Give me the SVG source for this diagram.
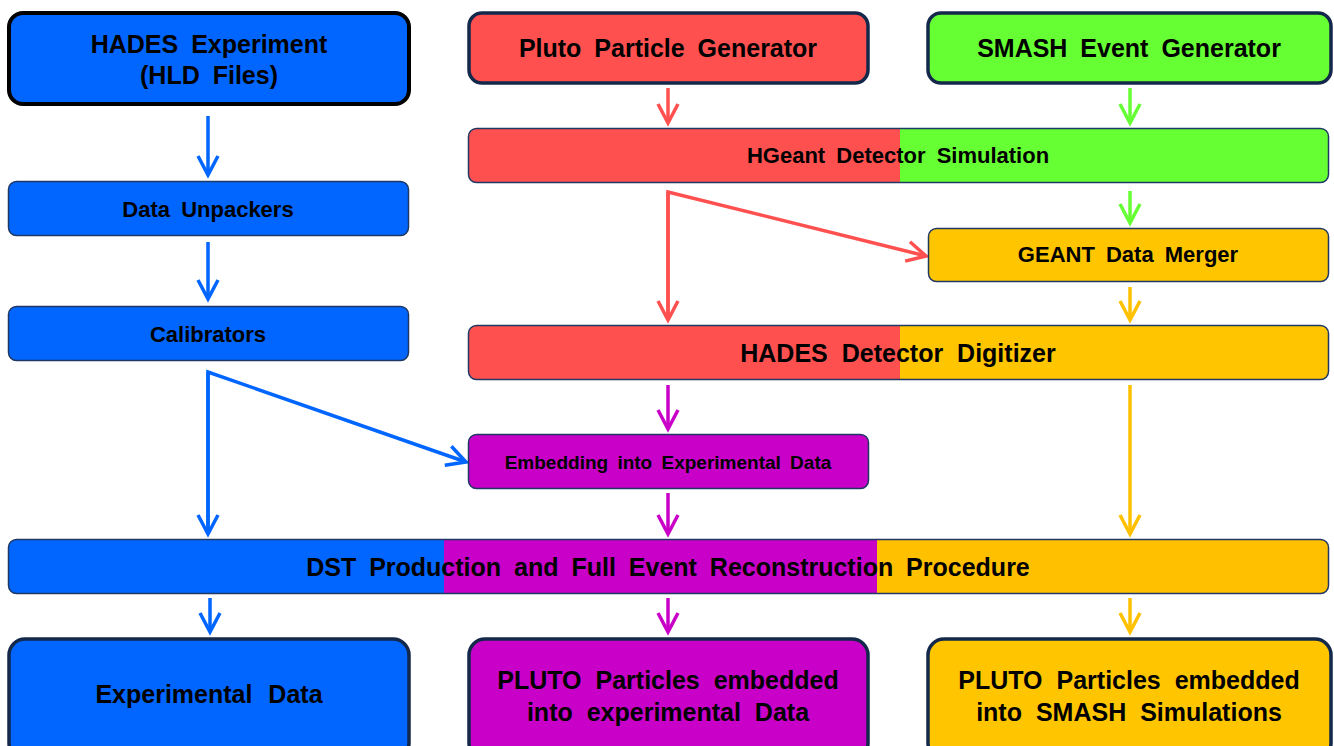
<svg xmlns="http://www.w3.org/2000/svg" width="1334" height="746" viewBox="0 0 1334 746">
<style>
.t{font-family:"Liberation Sans",Arial,sans-serif;font-weight:bold;fill:#000;text-anchor:middle}
.big{font-size:25px;word-spacing:6px}
.mid{font-size:22px;word-spacing:5px}
.sm{font-size:19px;word-spacing:4px}
.thin{stroke:#1F3864;stroke-width:1.5}
.thick{stroke:#14284B;stroke-width:3.5}
.c{fill:none;stroke-width:3.5;stroke-linecap:butt}
</style>
<defs>
<linearGradient id="gHG" gradientUnits="userSpaceOnUse" x1="468" y1="0" x2="1328" y2="0">
<stop offset="0.502" stop-color="#FF5050"/><stop offset="0.502" stop-color="#66FF33"/></linearGradient>
<linearGradient id="gDig" gradientUnits="userSpaceOnUse" x1="468" y1="0" x2="1328" y2="0">
<stop offset="0.502" stop-color="#FF5050"/><stop offset="0.502" stop-color="#FFC600"/></linearGradient>
<linearGradient id="gDST" gradientUnits="userSpaceOnUse" x1="8" y1="0" x2="1328" y2="0">
<stop offset="0.330" stop-color="#0066FF"/><stop offset="0.330" stop-color="#C800C8"/>
<stop offset="0.658" stop-color="#C800C8"/><stop offset="0.658" stop-color="#FFC000"/></linearGradient>
<marker id="mB" markerUnits="userSpaceOnUse" markerWidth="30" markerHeight="30" viewBox="-25 -15 30 30" refX="0" refY="0" orient="auto" overflow="visible"><path d="M-19,-10 L0,0 L-19,10" fill="none" stroke="#0066FF" stroke-width="3.5"/></marker>
<marker id="mR" markerUnits="userSpaceOnUse" markerWidth="30" markerHeight="30" viewBox="-25 -15 30 30" refX="0" refY="0" orient="auto" overflow="visible"><path d="M-19,-10 L0,0 L-19,10" fill="none" stroke="#FF5050" stroke-width="3.5"/></marker>
<marker id="mG" markerUnits="userSpaceOnUse" markerWidth="30" markerHeight="30" viewBox="-25 -15 30 30" refX="0" refY="0" orient="auto" overflow="visible"><path d="M-19,-10 L0,0 L-19,10" fill="none" stroke="#66FF33" stroke-width="3.5"/></marker>
<marker id="mY" markerUnits="userSpaceOnUse" markerWidth="30" markerHeight="30" viewBox="-25 -15 30 30" refX="0" refY="0" orient="auto" overflow="visible"><path d="M-19,-10 L0,0 L-19,10" fill="none" stroke="#FFC000" stroke-width="3.5"/></marker>
<marker id="mP" markerUnits="userSpaceOnUse" markerWidth="30" markerHeight="30" viewBox="-25 -15 30 30" refX="0" refY="0" orient="auto" overflow="visible"><path d="M-19,-10 L0,0 L-19,10" fill="none" stroke="#C800C8" stroke-width="3.5"/></marker>
</defs>
<rect width="1334" height="746" fill="#fff"/>

<g id="connectors">
<line class="c" stroke="#0066FF" x1="208" y1="116" x2="208" y2="175" marker-end="url(#mB)"/>
<line class="c" stroke="#0066FF" x1="208" y1="242" x2="208" y2="299" marker-end="url(#mB)"/>
<polyline class="c" stroke="#0066FF" points="208,534 208,372 466,462" marker-end="url(#mB)"/>
<line class="c" stroke="#0066FF" x1="208" y1="372" x2="208" y2="534" marker-end="url(#mB)"/>
<line class="c" stroke="#0066FF" x1="210" y1="598" x2="210" y2="632" marker-end="url(#mB)"/>
<line class="c" stroke="#FF5050" x1="668" y1="88" x2="668" y2="123" marker-end="url(#mR)"/>
<polyline class="c" stroke="#FF5050" points="668,320 668,192 926,256" marker-end="url(#mR)"/>
<line class="c" stroke="#FF5050" x1="668" y1="192" x2="668" y2="320" marker-end="url(#mR)"/>
<line class="c" stroke="#66FF33" x1="1130" y1="88" x2="1130" y2="123" marker-end="url(#mG)"/>
<line class="c" stroke="#66FF33" x1="1130" y1="191" x2="1130" y2="223" marker-end="url(#mG)"/>
<line class="c" stroke="#FFC000" x1="1130" y1="287" x2="1130" y2="320" marker-end="url(#mY)"/>
<line class="c" stroke="#FFC000" x1="1130" y1="385" x2="1130" y2="534" marker-end="url(#mY)"/>
<line class="c" stroke="#FFC000" x1="1130" y1="598" x2="1130" y2="632" marker-end="url(#mY)"/>
<line class="c" stroke="#C800C8" x1="668" y1="385" x2="668" y2="429" marker-end="url(#mP)"/>
<line class="c" stroke="#C800C8" x1="668" y1="493" x2="668" y2="534" marker-end="url(#mP)"/>
<line class="c" stroke="#C800C8" x1="668" y1="598" x2="668" y2="632" marker-end="url(#mP)"/>
</g>

<g id="hades-experiment">
<rect x="9" y="13" width="400" height="91" rx="14" fill="#0066FF" stroke="#000" stroke-width="4"/>
<text class="t big" x="209" y="53">HADES Experiment</text>
<text class="t big" x="209" y="84">(HLD Files)</text>
</g>
<g id="pluto-generator">
<rect x="469" y="13" width="399" height="70" rx="13" fill="#FF5050" class="thick"/>
<text class="t big" x="668" y="57">Pluto Particle Generator</text>
</g>
<g id="smash-generator">
<rect x="928" y="13" width="403" height="70" rx="13" fill="#66FF33" class="thick"/>
<text class="t big" x="1129" y="57">SMASH Event Generator</text>
</g>
<g id="data-unpackers">
<rect x="8.5" y="181.5" width="400" height="54" rx="8" fill="#0066FF" class="thin"/>
<text class="t mid" x="208" y="217">Data Unpackers</text>
</g>
<g id="calibrators">
<rect x="8.5" y="306.5" width="400" height="54" rx="8" fill="#0066FF" class="thin"/>
<text class="t mid" x="208" y="342">Calibrators</text>
</g>
<g id="hgeant">
<rect x="468.5" y="128.5" width="860" height="54" rx="8" fill="url(#gHG)" class="thin"/>
<text class="t mid" x="898" y="163">HGeant Detector Simulation</text>
</g>
<g id="geant-merger">
<rect x="928.5" y="228.5" width="400" height="53" rx="8" fill="#FFC600" class="thin"/>
<text class="t mid" x="1128" y="262">GEANT Data Merger</text>
</g>
<g id="digitizer">
<rect x="468.5" y="325.5" width="860" height="54" rx="8" fill="url(#gDig)" class="thin"/>
<text class="t big" x="898" y="362" style="word-spacing:7px">HADES Detector Digitizer</text>
</g>
<g id="embedding">
<rect x="468.5" y="434.5" width="400" height="54" rx="8" fill="#C800C8" class="thin"/>
<text class="t sm" x="668" y="469">Embedding into Experimental Data</text>
</g>
<g id="dst">
<rect x="8.5" y="539.5" width="1320" height="54" rx="8" fill="url(#gDST)" class="thin"/>
<text class="t big" x="668" y="576">DST Production and Full Event Reconstruction Procedure</text>
</g>
<g id="experimental-data">
<rect x="9" y="639" width="400" height="120" rx="16" fill="#0066FF" class="thick"/>
<text class="t big" x="209" y="703" style="word-spacing:9px">Experimental Data</text>
</g>
<g id="pluto-embedded-exp">
<rect x="469" y="639" width="399" height="120" rx="16" fill="#C800C8" class="thick"/>
<text class="t big" x="668" y="689" style="word-spacing:7px">PLUTO Particles embedded</text>
<text class="t big" x="668" y="721" style="word-spacing:7px">into experimental Data</text>
</g>
<g id="pluto-embedded-smash">
<rect x="928" y="639" width="403" height="120" rx="16" fill="#FFC600" class="thick"/>
<text class="t big" x="1129" y="689" style="word-spacing:7px">PLUTO Particles embedded</text>
<text class="t big" x="1129" y="721" style="word-spacing:7px">into SMASH Simulations</text>
</g>
</svg>
